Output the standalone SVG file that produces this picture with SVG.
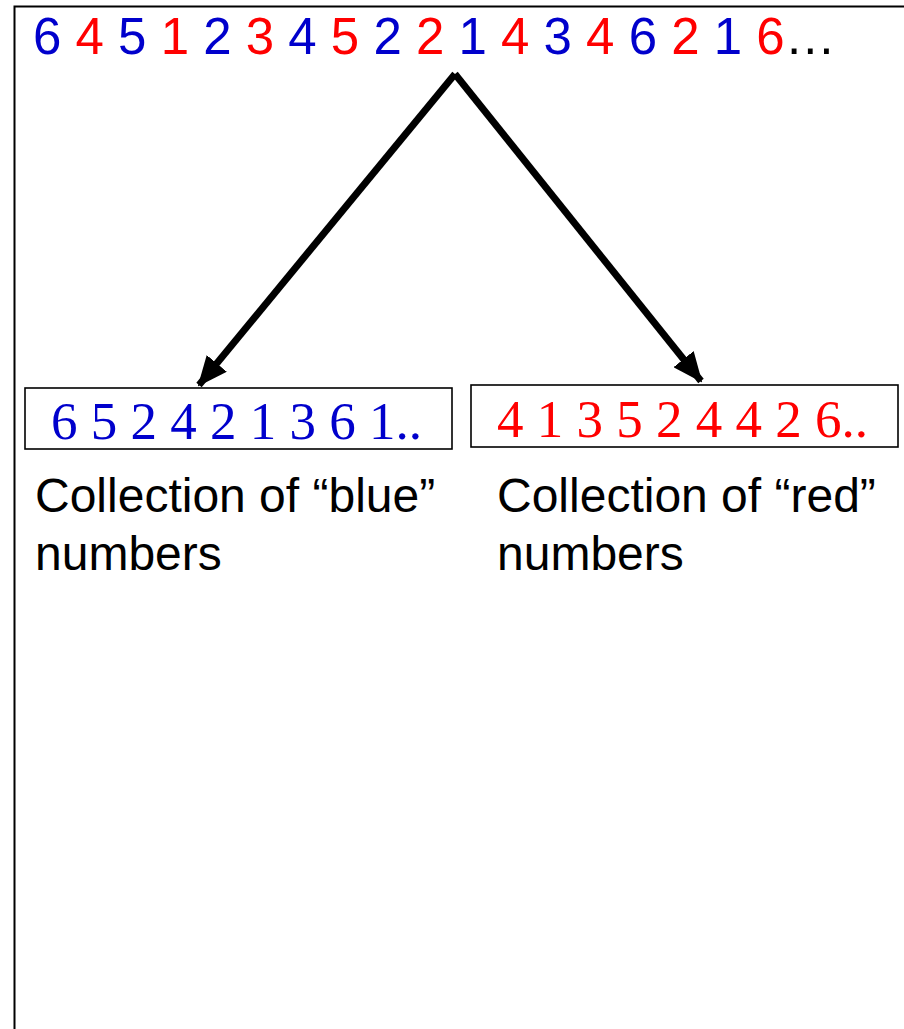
<svg xmlns="http://www.w3.org/2000/svg" width="904" height="1029" viewBox="0 0 904 1029">
<style>
.seq{font-family:"Liberation Sans",Arial,sans-serif;font-size:51px}
.b{fill:#0000CC}
.r{fill:#FF0000}
.k{fill:#000}
.box{fill:#fff;stroke:#000;stroke-width:1.6}
.num{font-family:"Liberation Serif","Times New Roman",serif;font-size:53px}
.lbl{font-family:"Liberation Sans",Arial,sans-serif;font-size:48px;fill:#000}
.frame{stroke:#000;stroke-width:2;fill:none}
.conn{stroke:#000;stroke-width:7;fill:none;marker-end:url(#ah)}
</style>
<defs>
<marker id="ah" markerUnits="userSpaceOnUse" markerWidth="30" markerHeight="26" viewBox="0 0 30 26" refX="28" refY="13" orient="auto">
<path d="M0,0 L30,13 L0,26 Z" fill="#000"/>
</marker>
</defs>
<rect width="904" height="1029" fill="#fff"/>
<path class="frame" d="M14.5,1029 L14.5,6.5 L904,6.5"/>
<g id="sequence">
<text class="seq" x="33" y="54"><tspan class="b">6 </tspan><tspan class="r">4 </tspan><tspan class="b">5 </tspan><tspan class="r">1 </tspan><tspan class="b">2 </tspan><tspan class="r">3 </tspan><tspan class="b">4 </tspan><tspan class="r">5 </tspan><tspan class="b">2 </tspan><tspan class="r">2 </tspan><tspan class="b">1 </tspan><tspan class="r">4 </tspan><tspan class="b">3 </tspan><tspan class="r">4 </tspan><tspan class="b">6 </tspan><tspan class="r">2 </tspan><tspan class="b">1 </tspan><tspan class="r">6</tspan><tspan class="k">…</tspan></text>
</g>
<g id="connectors">
<path class="conn" d="M455,74 L199,385"/>
<path class="conn" d="M455,74 L701,381"/>
</g>
<g id="blue-box">
<rect class="box" x="25" y="388" width="427" height="61"/>
<text class="num b" x="51" y="439">6 5 2 4 2 1 3 6 1..</text>
</g>
<g id="red-box">
<rect class="box" x="471" y="385" width="427" height="62"/>
<text class="num r" x="497" y="437">4 1 3 5 2 4 4 2 6..</text>
</g>
<g id="blue-label">
<text class="lbl" x="35" y="512">Collection of “blue”</text>
<text class="lbl" x="35" y="570">numbers</text>
</g>
<g id="red-label">
<text class="lbl" x="497" y="512">Collection of “red”</text>
<text class="lbl" x="497" y="570">numbers</text>
</g>
</svg>
